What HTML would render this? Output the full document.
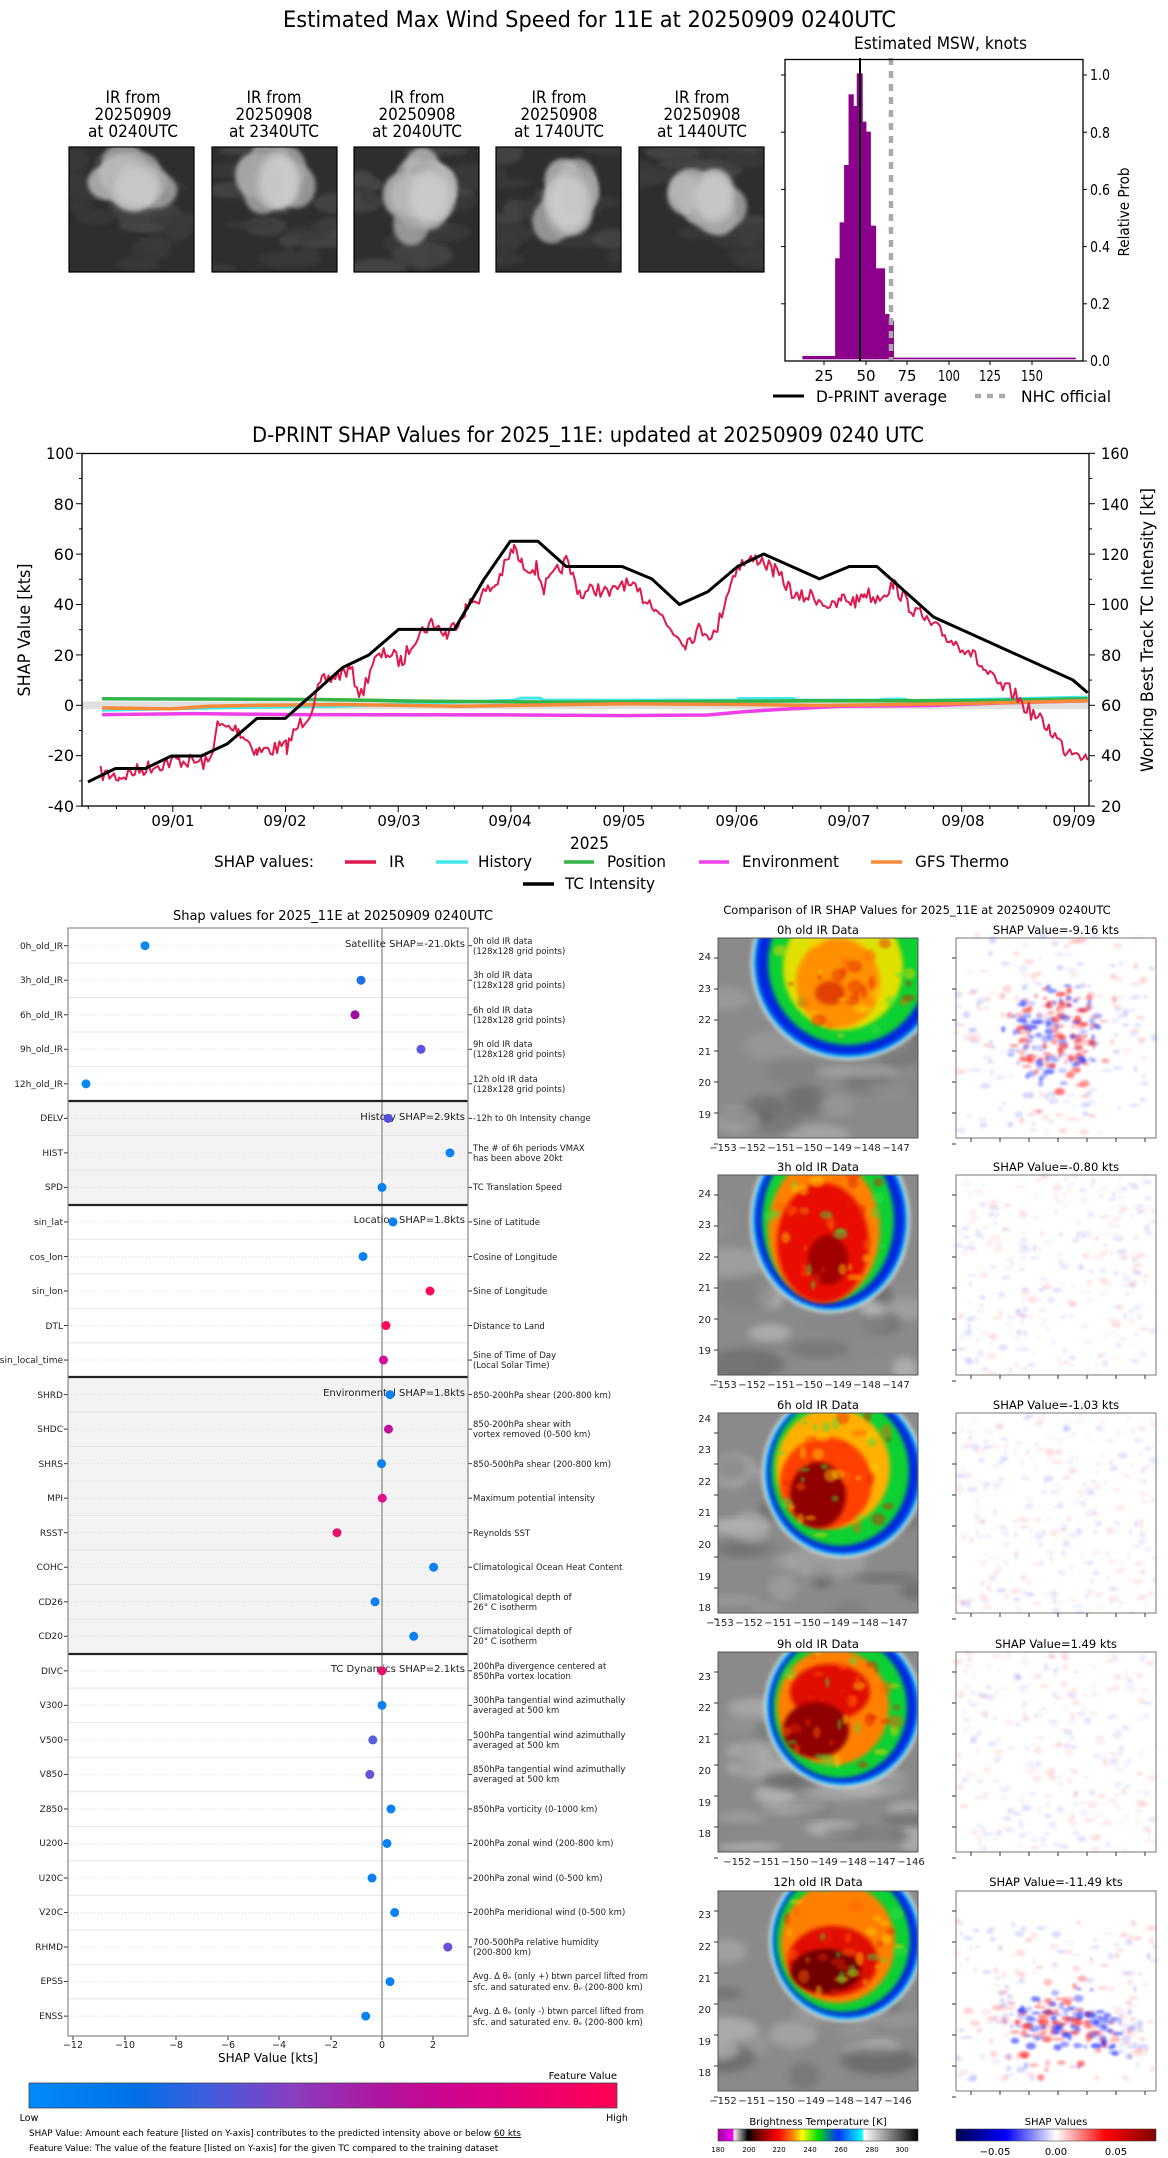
<!DOCTYPE html>
<html><head><meta charset="utf-8"><style>
html,body{margin:0;padding:0;background:#fff}
svg{display:block;font-family:"DejaVu Sans","Liberation Sans",sans-serif}
</style></head><body>
<svg id="s" width="1168" height="2158" viewBox="0 0 1168 2158" xmlns="http://www.w3.org/2000/svg">
<defs>
<filter id="bl" x="-20%" y="-20%" width="140%" height="140%"><feGaussianBlur stdDeviation="4"/></filter>
<filter id="bl2" x="-20%" y="-20%" width="140%" height="140%"><feGaussianBlur stdDeviation="2"/></filter>
<filter id="bl1" x="-50%" y="-50%" width="200%" height="200%"><feGaussianBlur stdDeviation="1.2"/></filter>
<linearGradient id="fv" x1="0" x2="1"><stop offset="0" stop-color="#008bfb"/><stop offset="0.18" stop-color="#0070e8"/><stop offset="0.3" stop-color="#3e5ee0"/><stop offset="0.45" stop-color="#8a3ec0"/><stop offset="0.6" stop-color="#b0149f"/><stop offset="0.75" stop-color="#d8008a"/><stop offset="1" stop-color="#ff0052"/></linearGradient>
<linearGradient id="bt" x1="0" x2="1"><stop offset="0" stop-color="#a000a0"/><stop offset="0.077" stop-color="#ff00ff"/><stop offset="0.078" stop-color="#ffffff"/><stop offset="0.15" stop-color="#000000"/><stop offset="0.2" stop-color="#700000"/><stop offset="0.3" stop-color="#ff0000"/><stop offset="0.38" stop-color="#ff9000"/><stop offset="0.42" stop-color="#ffff00"/><stop offset="0.5" stop-color="#00e000"/><stop offset="0.6" stop-color="#0030ff"/><stop offset="0.72" stop-color="#00ffff"/><stop offset="0.73" stop-color="#ffffff"/><stop offset="1" stop-color="#000000"/></linearGradient>
<linearGradient id="sw" x1="0" x2="1"><stop offset="0" stop-color="#00004c"/><stop offset="0.25" stop-color="#0000ff"/><stop offset="0.5" stop-color="#ffffff"/><stop offset="0.75" stop-color="#ff0000"/><stop offset="1" stop-color="#800000"/></linearGradient>
<clipPath id="c0"><rect x="0" y="0" width="200" height="200"/></clipPath>
<clipPath id="th"><rect x="0" y="0" width="125" height="125"/></clipPath>
</defs>

<!-- ========== TOP TITLE ========== -->
<text x="283" y="27" font-size="22" textLength="613" lengthAdjust="spacingAndGlyphs">Estimated Max Wind Speed for 11E at 20250909 0240UTC</text>

<g font-size="17" text-anchor="middle" id="irlab">
<text x="133" y="103" textLength="55" lengthAdjust="spacingAndGlyphs">IR from</text><text x="133" y="120" textLength="77" lengthAdjust="spacingAndGlyphs">20250909</text><text x="133" y="137" textLength="90" lengthAdjust="spacingAndGlyphs">at 0240UTC</text>
<text x="274" y="103" textLength="55" lengthAdjust="spacingAndGlyphs">IR from</text><text x="274" y="120" textLength="77" lengthAdjust="spacingAndGlyphs">20250908</text><text x="274" y="137" textLength="90" lengthAdjust="spacingAndGlyphs">at 2340UTC</text>
<text x="417" y="103" textLength="55" lengthAdjust="spacingAndGlyphs">IR from</text><text x="417" y="120" textLength="77" lengthAdjust="spacingAndGlyphs">20250908</text><text x="417" y="137" textLength="90" lengthAdjust="spacingAndGlyphs">at 2040UTC</text>
<text x="559" y="103" textLength="55" lengthAdjust="spacingAndGlyphs">IR from</text><text x="559" y="120" textLength="77" lengthAdjust="spacingAndGlyphs">20250908</text><text x="559" y="137" textLength="90" lengthAdjust="spacingAndGlyphs">at 1740UTC</text>
<text x="702" y="103" textLength="55" lengthAdjust="spacingAndGlyphs">IR from</text><text x="702" y="120" textLength="77" lengthAdjust="spacingAndGlyphs">20250908</text><text x="702" y="137" textLength="90" lengthAdjust="spacingAndGlyphs">at 1440UTC</text>
</g>
<g id="thumbs"></g>

<!-- histogram -->
<text x="854" y="49" font-size="17" textLength="173" lengthAdjust="spacingAndGlyphs">Estimated MSW, knots</text>
<g transform="matrix(0.745,0,0,0.3333,0,0)" fill="#8b008b">
<rect x="1077" y="1068" width="45" height="10"/>
<rect x="1121" y="775" width="7" height="303"/>
<rect x="1127" y="667" width="7" height="411"/>
<rect x="1133" y="495" width="7" height="583"/>
<rect x="1139" y="283" width="7" height="795"/>
<rect x="1145" y="318" width="6" height="760"/>
<rect x="1150" y="220" width="8" height="858"/>
<rect x="1157" y="365" width="6" height="713"/>
<rect x="1162" y="395" width="7" height="683"/>
<rect x="1168" y="677" width="8" height="401"/>
<rect x="1175" y="805" width="13" height="273"/>
<rect x="1187" y="942" width="7" height="136"/>
<rect x="1193" y="962" width="7" height="116"/>
<rect x="1199" y="1073" width="245" height="5"/>
</g>
<line x1="860" y1="58" x2="860" y2="361" stroke="#000" stroke-width="2"/>
<line x1="891" y1="58" x2="891" y2="361" stroke="#aaa" stroke-width="4.5" stroke-dasharray="7,6"/>
<rect x="785" y="59.5" width="298" height="301.5" fill="none" stroke="#000" stroke-width="1.3"/>
<g stroke="#000" stroke-width="1">
<line x1="824" y1="361" x2="824" y2="365"/><line x1="866" y1="361" x2="866" y2="365"/><line x1="907" y1="361" x2="907" y2="365"/><line x1="949" y1="361" x2="949" y2="365"/><line x1="990" y1="361" x2="990" y2="365"/><line x1="1032" y1="361" x2="1032" y2="365"/>
<line x1="1083" y1="361" x2="1087" y2="361"/><line x1="1083" y1="303.8" x2="1087" y2="303.8"/><line x1="1083" y1="246.6" x2="1087" y2="246.6"/><line x1="1083" y1="189.4" x2="1087" y2="189.4"/><line x1="1083" y1="132.2" x2="1087" y2="132.2"/><line x1="1083" y1="75" x2="1087" y2="75"/>
<line x1="785" y1="303.8" x2="781" y2="303.8"/><line x1="785" y1="246.6" x2="781" y2="246.6"/><line x1="785" y1="189.4" x2="781" y2="189.4"/><line x1="785" y1="132.2" x2="781" y2="132.2"/><line x1="785" y1="75" x2="781" y2="75"/>
</g>
<g font-size="15" text-anchor="middle"><text x="824" y="381">25</text><text x="866" y="381">50</text><text x="907" y="381">75</text><text x="949" y="381" textLength="22" lengthAdjust="spacingAndGlyphs">100</text><text x="990" y="381" textLength="22" lengthAdjust="spacingAndGlyphs">125</text><text x="1032" y="381" textLength="22" lengthAdjust="spacingAndGlyphs">150</text></g>
<g font-size="15"><text x="1090" y="366" textLength="20" lengthAdjust="spacingAndGlyphs">0.0</text><text x="1090" y="309" textLength="20" lengthAdjust="spacingAndGlyphs">0.2</text><text x="1090" y="252" textLength="20" lengthAdjust="spacingAndGlyphs">0.4</text><text x="1090" y="195" textLength="20" lengthAdjust="spacingAndGlyphs">0.6</text><text x="1090" y="138" textLength="20" lengthAdjust="spacingAndGlyphs">0.8</text><text x="1090" y="80" textLength="20" lengthAdjust="spacingAndGlyphs">1.0</text></g>
<text transform="translate(1129,212) rotate(-90)" font-size="15" text-anchor="middle" textLength="89" lengthAdjust="spacingAndGlyphs">Relative Prob</text>
<line x1="773" y1="396" x2="804" y2="396" stroke="#000" stroke-width="3"/>
<text x="816" y="402" font-size="16" textLength="131" lengthAdjust="spacingAndGlyphs">D-PRINT average</text>
<line x1="975" y1="396" x2="1007" y2="396" stroke="#aaa" stroke-width="4.5" stroke-dasharray="6,6"/>
<text x="1021" y="402" font-size="16" textLength="90" lengthAdjust="spacingAndGlyphs">NHC official</text>

<!-- ========== CHART 2 ========== -->
<text x="252" y="442" font-size="21" textLength="672" lengthAdjust="spacingAndGlyphs">D-PRINT SHAP Values for 2025_11E: updated at 20250909 0240 UTC</text>
<rect x="82" y="701.5" width="1007" height="7.5" fill="#e0e0e0"/>
<g id="c2ticks" stroke="#000" stroke-width="1"></g>
<g font-size="16" text-anchor="end">
<text x="74" y="459" textLength="28" lengthAdjust="spacingAndGlyphs">100</text><text x="74" y="510">80</text><text x="74" y="560">60</text><text x="74" y="610">40</text><text x="74" y="661">20</text><text x="74" y="711">0</text><text x="74" y="761">-20</text><text x="74" y="812">-40</text>
</g>
<g font-size="16">
<text x="1101" y="459" textLength="28" lengthAdjust="spacingAndGlyphs">160</text><text x="1101" y="510" textLength="28" lengthAdjust="spacingAndGlyphs">140</text><text x="1101" y="560" textLength="28" lengthAdjust="spacingAndGlyphs">120</text><text x="1101" y="610" textLength="28" lengthAdjust="spacingAndGlyphs">100</text><text x="1101" y="661">80</text><text x="1101" y="711">60</text><text x="1101" y="761">40</text><text x="1101" y="812">20</text>
</g>
<g font-size="15" text-anchor="middle">
<text x="173" y="826">09/01</text><text x="285" y="826">09/02</text><text x="399" y="826">09/03</text><text x="510" y="826">09/04</text><text x="624" y="826">09/05</text><text x="737" y="826">09/06</text><text x="849" y="826">09/07</text><text x="963" y="826">09/08</text><text x="1074" y="826">09/09</text>
</g>
<text x="570" y="849" font-size="17" textLength="39" lengthAdjust="spacingAndGlyphs">2025</text>
<text transform="translate(30,630) rotate(-90)" font-size="17" text-anchor="middle" textLength="133" lengthAdjust="spacingAndGlyphs">SHAP Value [kts]</text>
<text transform="translate(1153,630) rotate(-90)" font-size="17" text-anchor="middle" textLength="284" lengthAdjust="spacingAndGlyphs">Working Best Track TC Intensity [kt]</text>

<g transform="matrix(0.745,0,0,0.3367,0,420)" fill="none" stroke-linejoin="round">
<polyline vector-effect="non-scaling-stroke" stroke="#44e8ea" stroke-width="3" points="137,862 300,855 460,850 690,832 700,826 725,826 730,832 990,832 992,827 1065,827 1070,832 1180,832 1185,829 1215,829 1220,833 1330,829 1460,823"/>
<polyline vector-effect="non-scaling-stroke" stroke="#33b54a" stroke-width="3.5" points="137,828 300,829 430,830 560,835 760,838 900,836 1100,834 1300,834 1460,828"/>
<polyline vector-effect="non-scaling-stroke" stroke="#f03ee8" stroke-width="3.5" points="137,875 260,872 400,875 700,876 840,878 950,876 1000,866 1060,858 1130,850 1250,848 1350,840 1460,834"/>
<polyline vector-effect="non-scaling-stroke" stroke="#f58a3a" stroke-width="3.5" points="137,855 230,858 280,850 330,848 460,845 620,850 830,843 1000,845 1100,848 1300,842 1460,834"/>
<polyline id="irline" vector-effect="non-scaling-stroke" stroke="#e0194d" stroke-width="2" points=""/>
<polyline vector-effect="non-scaling-stroke" stroke="#000" stroke-width="3" points="118,1075 155,1035 195,1035 230,998 270,998 305,962 345,886 383,886 460,735 495,698 535,622 610,622 650,472 685,360 722,360 760,435 835,435 875,472 912,548 950,510 990,435 1025,398 1100,472 1140,435 1177,435 1253,585 1440,772 1460,810"/>
</g>
<rect x="82" y="453.5" width="1007" height="352.5" fill="none" stroke="#000" stroke-width="1.3"/>

<!-- legend -->
<text x="214" y="867" font-size="16" textLength="100" lengthAdjust="spacingAndGlyphs">SHAP values:</text>
<line x1="345" y1="862" x2="376" y2="862" stroke="#e0194d" stroke-width="3.5"/><text x="389" y="867" font-size="16">IR</text>
<line x1="436" y1="862" x2="468" y2="862" stroke="#44e8ea" stroke-width="3.5"/><text x="478" y="867" font-size="16" textLength="54" lengthAdjust="spacingAndGlyphs">History</text>
<line x1="564" y1="862" x2="594" y2="862" stroke="#33b54a" stroke-width="3.5"/><text x="607" y="867" font-size="16" textLength="59" lengthAdjust="spacingAndGlyphs">Position</text>
<line x1="699" y1="862" x2="729" y2="862" stroke="#f03ee8" stroke-width="3.5"/><text x="742" y="867" font-size="16" textLength="97" lengthAdjust="spacingAndGlyphs">Environment</text>
<line x1="871" y1="862" x2="902" y2="862" stroke="#f58a3a" stroke-width="3.5"/><text x="915" y="867" font-size="16" textLength="94" lengthAdjust="spacingAndGlyphs">GFS Thermo</text>
<line x1="523" y1="884" x2="554" y2="884" stroke="#000" stroke-width="3.5"/><text x="565" y="889" font-size="16" textLength="90" lengthAdjust="spacingAndGlyphs">TC Intensity</text>

<!-- ========== CHART 3 LEFT ========== -->
<text x="333" y="920" font-size="13" text-anchor="middle">Shap values for 2025_11E at 20250909 0240UTC</text>
<rect x="68" y="1101" width="400" height="104" fill="#f3f3f3"/>
<rect x="68" y="1377" width="400" height="277" fill="#f3f3f3"/>
<g id="grid3" stroke="#e4e4e4" stroke-width="1"></g>
<line x1="382" y1="928" x2="382" y2="2036" stroke="#999" stroke-width="1.5"/>
<g stroke="#222" stroke-width="2.2">
<line x1="68" y1="1101" x2="468" y2="1101"/><line x1="68" y1="1205" x2="468" y2="1205"/><line x1="68" y1="1377" x2="468" y2="1377"/><line x1="68" y1="1654" x2="468" y2="1654"/>
</g>
<rect x="68" y="928" width="400" height="1108" fill="none" stroke="#888" stroke-width="1.2"/>
<g font-size="10" text-anchor="end" fill="#222">
<text x="465" y="947">Satellite SHAP=-21.0kts</text>
<text x="465" y="1120">History SHAP=2.9kts</text>
<text x="465" y="1223">Location SHAP=1.8kts</text>
<text x="465" y="1396">Environmental SHAP=1.8kts</text>
<text x="465" y="1672">TC Dynamics SHAP=2.1kts</text>
</g>
<g id="dots"></g>
<g font-size="9" text-anchor="end" fill="#222">
<text x="63" y="949">0h_old_IR</text><text x="63" y="983">3h_old_IR</text><text x="63" y="1018">6h_old_IR</text><text x="63" y="1052">9h_old_IR</text><text x="63" y="1087">12h_old_IR</text>
<text x="63" y="1121">DELV</text><text x="63" y="1156">HIST</text><text x="63" y="1190">SPD</text>
<text x="63" y="1225">sin_lat</text><text x="63" y="1260">cos_lon</text><text x="63" y="1294">sin_lon</text><text x="63" y="1329">DTL</text><text x="63" y="1363">sin_local_time</text>
<text x="63" y="1398">SHRD</text><text x="63" y="1432">SHDC</text><text x="63" y="1467">SHRS</text><text x="63" y="1501">MPI</text><text x="63" y="1536">RSST</text><text x="63" y="1570">COHC</text><text x="63" y="1605">CD26</text><text x="63" y="1639">CD20</text>
<text x="63" y="1674">DIVC</text><text x="63" y="1708">V300</text><text x="63" y="1743">V500</text><text x="63" y="1777">V850</text><text x="63" y="1812">Z850</text><text x="63" y="1846">U200</text><text x="63" y="1881">U20C</text><text x="63" y="1915">V20C</text><text x="63" y="1950">RHMD</text><text x="63" y="1984">EPSS</text><text x="63" y="2019">ENSS</text>
</g>
<g font-size="8.5" fill="#222">
<text x="473" y="944">0h old IR data</text><text x="473" y="954">(128x128 grid points)</text>
<text x="473" y="978">3h old IR data</text><text x="473" y="988">(128x128 grid points)</text>
<text x="473" y="1013">6h old IR data</text><text x="473" y="1023">(128x128 grid points)</text>
<text x="473" y="1047">9h old IR data</text><text x="473" y="1057">(128x128 grid points)</text>
<text x="473" y="1082">12h old IR data</text><text x="473" y="1092">(128x128 grid points)</text>
<text x="473" y="1121">-12h to 0h Intensity change</text>
<text x="473" y="1151">The # of 6h periods VMAX</text><text x="473" y="1161">has been above 20kt</text>
<text x="473" y="1190">TC Translation Speed</text>
<text x="473" y="1225">Sine of Latitude</text>
<text x="473" y="1260">Cosine of Longitude</text>
<text x="473" y="1294">Sine of Longitude</text>
<text x="473" y="1329">Distance to Land</text>
<text x="473" y="1358">Sine of Time of Day</text><text x="473" y="1368">(Local Solar Time)</text>
<text x="473" y="1398">850-200hPa shear (200-800 km)</text>
<text x="473" y="1427">850-200hPa shear with</text><text x="473" y="1437">vortex removed (0-500 km)</text>
<text x="473" y="1467">850-500hPa shear (200-800 km)</text>
<text x="473" y="1501">Maximum potential intensity</text>
<text x="473" y="1536">Reynolds SST</text>
<text x="473" y="1570">Climatological Ocean Heat Content</text>
<text x="473" y="1600">Climatological depth of</text><text x="473" y="1610">26° C isotherm</text>
<text x="473" y="1634">Climatological depth of</text><text x="473" y="1644">20° C isotherm</text>
<text x="473" y="1669">200hPa divergence centered at</text><text x="473" y="1679">850hPa vortex location</text>
<text x="473" y="1703">300hPa tangential wind azimuthally</text><text x="473" y="1713">averaged at 500 km</text>
<text x="473" y="1738">500hPa tangential wind azimuthally</text><text x="473" y="1748">averaged at 500 km</text>
<text x="473" y="1772">850hPa tangential wind azimuthally</text><text x="473" y="1782">averaged at 500 km</text>
<text x="473" y="1812">850hPa vorticity (0-1000 km)</text>
<text x="473" y="1846">200hPa zonal wind (200-800 km)</text>
<text x="473" y="1881">200hPa zonal wind (0-500 km)</text>
<text x="473" y="1915">200hPa meridional wind (0-500 km)</text>
<text x="473" y="1945">700-500hPa relative humidity</text><text x="473" y="1955">(200-800 km)</text>
<text x="473" y="1979">Avg. Δ θₑ (only +) btwn parcel lifted from</text><text x="473" y="1990">sfc. and saturated env. θₑ (200-800 km)</text>
<text x="473" y="2014">Avg. Δ θₑ (only -) btwn parcel lifted from</text><text x="473" y="2025">sfc. and saturated env. θₑ (200-800 km)</text>
</g>
<g font-size="9.5" text-anchor="middle" fill="#222">
<text x="73" y="2048">−12</text><text x="125" y="2048">−10</text><text x="176" y="2048">−8</text><text x="228" y="2048">−6</text><text x="279" y="2048">−4</text><text x="331" y="2048">−2</text><text x="382" y="2048">0</text><text x="433" y="2048">2</text>
</g>
<text x="268" y="2062" font-size="12" text-anchor="middle">SHAP Value [kts]</text>
<text x="617" y="2079" font-size="10" text-anchor="end">Feature Value</text>
<rect x="29" y="2083" width="588" height="25" fill="url(#fv)" stroke="#444" stroke-width="0.8"/>
<text x="29" y="2121" font-size="9.5" text-anchor="middle">Low</text>
<text x="617" y="2121" font-size="9.5" text-anchor="middle">High</text>
<text x="29" y="2136" font-size="8.8">SHAP Value: Amount each feature [listed on Y-axis] contributes to the predicted intensity above or below <tspan text-decoration="underline">60 kts</tspan></text>
<text x="29" y="2151" font-size="8.8">Feature Value: The value of the feature [listed on Y-axis] for the given TC compared to the training dataset</text>

<!-- ========== CHART 3 RIGHT ========== -->
<text x="917" y="914" font-size="11.5" text-anchor="middle">Comparison of IR SHAP Values for 2025_11E at 20250909 0240UTC</text>
<g font-size="11.5" text-anchor="middle">
<text x="818" y="934">0h old IR Data</text><text x="1056" y="934">SHAP Value=-9.16 kts</text>
<text x="818" y="1171">3h old IR Data</text><text x="1056" y="1171">SHAP Value=-0.80 kts</text>
<text x="818" y="1409">6h old IR Data</text><text x="1056" y="1409">SHAP Value=-1.03 kts</text>
<text x="818" y="1648">9h old IR Data</text><text x="1056" y="1648">SHAP Value=1.49 kts</text>
<text x="818" y="1886">12h old IR Data</text><text x="1056" y="1886">SHAP Value=-11.49 kts</text>
</g>
<g id="irp"></g>
<g font-size="10" text-anchor="middle" fill="#222">
<text x="723" y="1151">−153</text><text x="752" y="1151">−152</text><text x="781" y="1151">−151</text><text x="809" y="1151">−150</text><text x="838" y="1151">−149</text><text x="867" y="1151">−148</text><text x="896" y="1151">−147</text>
<text x="723" y="1388">−153</text><text x="752" y="1388">−152</text><text x="781" y="1388">−151</text><text x="809" y="1388">−150</text><text x="838" y="1388">−149</text><text x="867" y="1388">−148</text><text x="896" y="1388">−147</text>
<text x="720" y="1626">−153</text><text x="749" y="1626">−152</text><text x="778" y="1626">−151</text><text x="807" y="1626">−150</text><text x="836" y="1626">−149</text><text x="865" y="1626">−148</text><text x="894" y="1626">−147</text>
<text x="737" y="1865">−152</text><text x="766" y="1865">−151</text><text x="795" y="1865">−150</text><text x="824" y="1865">−149</text><text x="853" y="1865">−148</text><text x="882" y="1865">−147</text><text x="911" y="1865">−146</text>
<text x="723" y="2104">−152</text><text x="752" y="2104">−151</text><text x="781" y="2104">−150</text><text x="811" y="2104">−149</text><text x="840" y="2104">−148</text><text x="869" y="2104">−147</text><text x="898" y="2104">−146</text>
</g>
<g font-size="10" text-anchor="end" fill="#222">
<text x="711" y="960">24</text><text x="711" y="992">23</text><text x="711" y="1023">22</text><text x="711" y="1055">21</text><text x="711" y="1086">20</text><text x="711" y="1118">19</text>
<text x="711" y="1197">24</text><text x="711" y="1228">23</text><text x="711" y="1260">22</text><text x="711" y="1291">21</text><text x="711" y="1323">20</text><text x="711" y="1354">19</text>
<text x="711" y="1422">24</text><text x="711" y="1453">23</text><text x="711" y="1485">22</text><text x="711" y="1516">21</text><text x="711" y="1548">20</text><text x="711" y="1580">19</text><text x="711" y="1611">18</text>
<text x="711" y="1680">23</text><text x="711" y="1711">22</text><text x="711" y="1743">21</text><text x="711" y="1774">20</text><text x="711" y="1806">19</text><text x="711" y="1837">18</text>
<text x="711" y="1918">23</text><text x="711" y="1950">22</text><text x="711" y="1982">21</text><text x="711" y="2013">20</text><text x="711" y="2045">19</text><text x="711" y="2076">18</text>
</g>
<text x="818" y="2125" font-size="10" text-anchor="middle">Brightness Temperature [K]</text>
<rect x="718" y="2129" width="200" height="12" fill="url(#bt)" stroke="#444" stroke-width="0.6"/>
<g font-size="7" text-anchor="middle"><text x="718" y="2152">180</text><text x="749" y="2152">200</text><text x="779" y="2152">220</text><text x="810" y="2152">240</text><text x="841" y="2152">260</text><text x="872" y="2152">280</text><text x="902" y="2152">300</text></g>
<text x="1056" y="2125" font-size="10" text-anchor="middle">SHAP Values</text>
<rect x="956" y="2129" width="200" height="12" fill="url(#sw)" stroke="#444" stroke-width="0.6"/>
<g font-size="10" text-anchor="middle"><text x="995" y="2155">−0.05</text><text x="1056" y="2155">0.00</text><text x="1116" y="2155">0.05</text></g>
</svg>
<script>
(function(){
var NS="http://www.w3.org/2000/svg";
function el(t,a,p){var e=document.createElementNS(NS,t);for(var k in a)e.setAttribute(k,a[k]);p.appendChild(e);return e;}
var seed=7;function r(){seed=(seed*16807)%2147483647;return (seed-1)/2147483646;}
var K=[[135,1050],[160,1060],[200,1030],[240,1010],[280,1020],[292,910],[320,920],[345,985],[385,970],[400,910],[415,870],[432,780],[470,740],[485,820],[500,720],[520,690],[540,720],[555,650],[580,600],[600,640],[625,560],[640,530],[665,490],[690,380],[700,430],[720,440],[730,500],[760,420],[780,520],[800,500],[820,520],[835,480],[860,520],[880,550],[895,610],[920,660],[940,620],[960,640],[975,520],[990,430],[1005,420],[1020,410],[1040,450],[1060,500],[1070,530],[1090,520],[1105,540],[1120,560],[1130,530],[1150,540],[1160,510],[1175,530],[1200,490],[1220,550],[1250,610],[1280,660],[1300,680],[1320,740],[1340,790],[1360,810],[1375,850],[1390,880],[1410,920],[1430,980],[1445,975],[1460,1010]];
var pts=[];for(var i=0;i<K.length-1;i++){var a=K[i],b=K[i+1];for(var x=a[0];x<b[0];x+=3){var t=(x-a[0])/(b[0]-a[0]);pts.push(x+","+(a[1]+(b[1]-a[1])*t+(r()-0.5)*45).toFixed(1));}}
pts.push("1460,1010");document.getElementById("irline").setAttribute("points",pts.join(" "));
var g=document.getElementById("c2ticks");
for(var d=0;d<=9;d++){var x0=172.8+112.7*(d-1);for(var q=0;q<4;q++){var x=x0+q*28.18;if(x<83||x>1088)continue;el("line",{x1:x,y1:806,x2:x,y2:q==0?812:809},g);}}
for(var v=-40;v<=100;v+=10){var y=705.3-v*2.52;el("line",{x1:82,y1:y,x2:v%20==0?76:79,y2:y},g);el("line",{x1:1089,y1:y,x2:v%20==0?1095:1092,y2:y},g);}
var gg=document.getElementById("grid3"),dg=document.getElementById("dots");
var X=[145,361,355,421,86,388,450,382,393,363,430,386,383.5,390,388.5,381.5,382.3,337,433.6,375,413.7,382,382,372.8,369.8,391,387,372,394.7,447.8,390,365.7];
var C=["#0a8af0","#1f6fe8","#a010a0","#5a55e0","#0a8af0","#5050e0","#0a80f5","#0a80f5","#0a80f5","#0a80f5","#ff0a5a","#ff0a5a","#d0109a","#0a80f5","#c010a0","#0a80f5","#e0108a","#e8106a","#0a80f5","#0a80f5","#0a80f5","#e8106a","#0a80f5","#5560e0","#6a50d8","#0a80f5","#0a80f5","#0a80f5","#0a80f5","#6a50d8","#0a80f5","#0a80f5"];
for(var i=0;i<32;i++){var y=945.7+34.53*i;if(i<31)el("line",{x1:68,y1:y+17.3,x2:468,y2:y+17.3},gg);
el("line",{x1:68,y1:y,x2:468,y2:y,stroke:"#ddd","stroke-dasharray":"1,2"},gg);
el("line",{x1:64,y1:y,x2:68,y2:y,stroke:"#333"},gg);el("line",{x1:468,y1:y,x2:472,y2:y,stroke:"#333"},gg);
el("circle",{cx:X[i],cy:y,r:4.5,fill:C[i]},dg);}
[73,125,176,228,279,331,382,433].forEach(function(x){el("line",{x1:x,y1:2036,x2:x,y2:2040,stroke:"#333"},gg);});
// thumbnails
var th=document.getElementById("thumbs");
var TX=[69,212,354,496,639];var BL=[[62,40,48,45],[62,35,42,55],[70,50,40,55],[68,55,42,55],[70,50,40,50]];
TX.forEach(function(x,k){var gr=el("g",{transform:"translate("+x+",147)"},th);
el("rect",{x:0,y:0,width:125,height:125,fill:"#2e2e2e"},gr);var c=el("g",{"clip-path":"url(#th)"},gr);
for(var j=0;j<18;j++)el("ellipse",{cx:r()*125,cy:r()*125,rx:8+r()*25,ry:4+r()*10,fill:r()<0.5?"#474747":"#3a3a3a",opacity:0.8,filter:"url(#bl2)"},c);
var b=BL[k];
for(var j=0;j<14;j++){var ang=r()*6.28,rr=r();el("ellipse",{cx:b[0]+Math.cos(ang)*b[2]*0.6*rr,cy:b[1]+Math.sin(ang)*b[3]*0.6*rr,rx:b[2]*0.45,ry:b[3]*0.4,fill:r()<0.5?"#b8b8b8":"#a5a5a5",opacity:0.85,filter:"url(#bl2)"},c);}
el("ellipse",{cx:b[0]+5,cy:b[1],rx:b[2]*0.5,ry:b[3]*0.5,fill:"#cfcfcf",opacity:0.8,filter:"url(#bl)"},c);
el("rect",{x:0,y:0,width:125,height:125,fill:"none",stroke:"#000","stroke-width":1.2},gr);});
// IR panels
var ip=document.getElementById("irp");
var PY=[938,1175,1413,1652,1891];
var B=[
[[130,25,92,92,"#0028e0"],[130,25,80,82,"#10d030"],[125,30,60,62,"#e0e000"],[120,45,42,45,"#ff9000"],[112,55,15,12,"#e04000"]],
[[112,45,75,88,"#0028e0"],[110,45,66,82,"#10d030"],[106,55,56,72,"#ff8000"],[105,68,46,60,"#e81000"],[110,85,20,25,"#a00000"]],
[[125,60,76,80,"#0028e0"],[122,58,69,75,"#10d030"],[115,55,57,60,"#ffb000"],[108,70,46,46,"#ff4000"],[100,82,28,33,"#900000"]],
[[125,55,74,76,"#0028e0"],[122,55,67,71,"#10d030"],[115,55,56,58,"#ff8000"],[112,40,40,28,"#e01000"],[98,78,33,28,"#900000"]],
[[128,50,72,76,"#0028e0"],[125,50,67,71,"#10d030"],[120,52,57,60,"#ff8000"],[115,70,45,35,"#e01000"],[108,80,35,22,"#700000"]]];
PY.forEach(function(y,k){
 var gr=el("g",{transform:"translate(718,"+y+")"},ip);
 el("rect",{x:0,y:0,width:200,height:200,fill:"#8a8a8a"},gr);
 var c=el("g",{"clip-path":"url(#c0)"},gr);
 for(var j=0;j<30;j++){var gv=90+Math.floor(r()*110);el("ellipse",{cx:r()*200,cy:40+r()*160,rx:10+r()*35,ry:4+r()*12,fill:"rgb("+gv+","+gv+","+gv+")",opacity:0.6,filter:"url(#bl)"},c);}
 var o=B[k][0];
 el("ellipse",{cx:o[0],cy:o[1],rx:o[2]+5,ry:o[3]+5,fill:"#d8d8d8",filter:"url(#bl2)"},c);
 el("ellipse",{cx:o[0],cy:o[1],rx:o[2]+2,ry:o[3]+2,fill:"#00c8ff",filter:"url(#bl2)"},c);
 B[k].forEach(function(e){el("ellipse",{cx:e[0],cy:e[1],rx:e[2],ry:e[3],fill:e[4],filter:"url(#bl2)"},c);});
 // texture on blob
 for(var j=0;j<40;j++){var ang=r()*6.28,rr=Math.sqrt(r());var e=B[k][1];
  el("ellipse",{cx:e[0]+Math.cos(ang)*e[2]*0.9*rr,cy:e[1]+Math.sin(ang)*e[3]*0.9*rr,rx:2+r()*6,ry:2+r()*5,fill:["#ffd000","#ff6000","#40e040","#e02000"][Math.floor(r()*4)],opacity:0.45,filter:"url(#bl1)"},c);}
 el("rect",{x:0,y:0,width:200,height:200,fill:"none",stroke:"#555","stroke-width":1},gr);
 for(var t=0;t<7;t++){el("line",{x1:-4,y1:20+t*31,x2:0,y2:20+t*31,stroke:"#333"},gr);}
 var s=el("g",{transform:"translate(956,"+y+")"},ip);
 el("rect",{x:0,y:0,width:200,height:200,fill:"#fff"},s);
 var n=k==0||k==4?380:300;
 for(var j=0;j<n;j++){var cx,cy;
  if(k==0){cx=100+(r()-0.5)*(r()<0.5?80:200);cy=95+(r()-0.5)*(r()<0.5?80:200);}
  else if(k==4){cx=r()*200;cy=30+r()*160;if(r()<0.5){var u=r();cx=40+u*150;cy=120+u*30+(r()-0.5)*40;}}
  else{cx=r()*200;cy=r()*200;}
  var red=r()<0.5;var dist=Math.hypot(cx-(k==4?110:100),cy-(k==4?140:100));
  var op=(k==0||k==4)?(dist<55?0.2+r()*0.45:0.05+r()*0.15):(0.03+r()*0.1);
  el("ellipse",{cx:cx,cy:cy,rx:1.5+r()*4,ry:1.2+r()*2.5,fill:red?"#ff2020":"#2030ff",opacity:op.toFixed(2),filter:"url(#bl1)"},s);}
 el("rect",{x:0,y:0,width:200,height:200,fill:"none",stroke:"#777","stroke-width":1},s);
 for(var t=0;t<7;t++){el("line",{x1:-4,y1:20+t*31,x2:0,y2:20+t*31,stroke:"#333"},s);el("line",{x1:15+t*29,y1:200,x2:15+t*29,y2:204,stroke:"#333"},s);}
});
})();
</script>
</body></html>
